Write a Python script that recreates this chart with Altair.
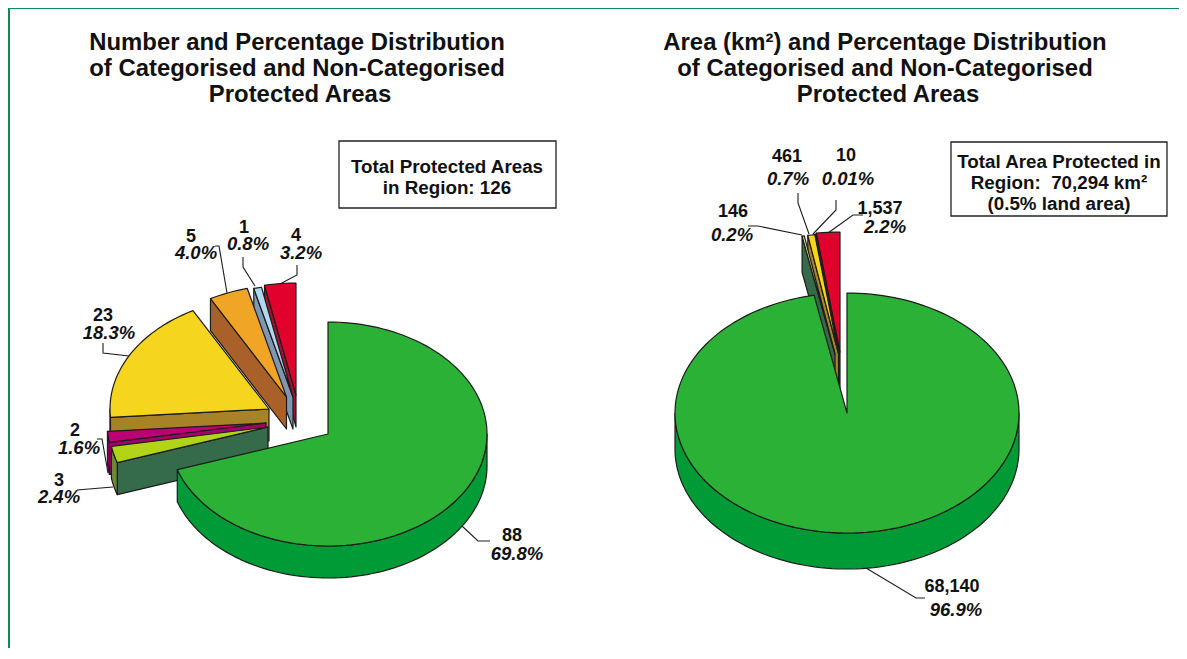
import math
import altair as alt

# ---- values ----
left_labels = ["88", "3", "2", "23", "5", "1", "4"]
left_values = [88, 3, 2, 23, 5, 1, 4]
left_pct = ["69.8%", "2.4%", "1.6%", "18.3%", "4.0%", "0.8%", "3.2%"]
right_labels = ["68,140", "146", "461", "10", "1,537"]
right_values = [68140, 146, 461, 10, 1537]
right_pct = ["96.9%", "0.2%", "0.7%", "0.01%", "2.2%"]

# ---- styling: (top, radial wall, outer wall) ----
GREEN = ("#2BB236", "#009A36", "#009A36")
LIME = ("#B2D418", "#356A4B", "#6B8A34")
MAGENTA = ("#BE0075", "#A3006C", "#A3006C")
YELLOW = ("#F6D51F", "#A88226", "#A88226")
ORANGE = ("#F0A527", "#A96029", "#A96029")
BLUE = ("#B0D8F0", "#7F97B2", "#7F97B2")
RED = ("#E2002D", "#A3122E", "#A3122E")
PALE = ("#E6ECA8", "#356A4B", "#356A4B")

left_colors = [GREEN, LIME, MAGENTA, YELLOW, ORANGE, BLUE, RED]
right_colors = [GREEN, PALE, YELLOW, BLUE, RED]
# apex of every exploded slice on the page
left_apex = [(328, 434), (268, 427), (266, 423), (269, 409), (286.5, 397), (293, 397), (296, 395)]
right_apex = [(847, 413), (835, 354), (838.5, 353.5), (839, 353), (840, 352)]
left_shape = (159, 112, 32)
right_shape = (172, 120, 36)

W, H = 1171, 640
OFF = 8
INK = "#1c1c1c"


def pie_features(values, colors, apexes, shape):
    rx, ry, depth = shape
    total = sum(values)
    spans, cum = [], 0
    for v in values:
        spans.append((cum / total * 360, (cum + v) / total * 360))
        cum += v
    feats = []

    def add(points, fill):
        ring = [[float(a), float(b)] for a, b in points]
        ring.append(ring[0])
        feats.append({"type": "Feature", "properties": {"fill": fill},
                      "geometry": {"type": "Polygon", "coordinates": [ring]}})

    # far slices first: last slice, going backwards, then the big slice
    for i in list(range(len(values) - 1, -1, -1)):
        a0, a1 = spans[i]
        cx, cy = apexes[i]

        def pt(a):
            r = math.radians(a)
            return (cx + rx * math.sin(r), cy - ry * math.cos(r))

        n = max(2, int((a1 - a0) / 2) + 2)
        arc = [a0 + (a1 - a0) * k / (n - 1) for k in range(n)]
        top = [(cx, cy)] + [pt(a) for a in arc]
        # radial walls that face the viewer
        s = pt(a0)
        if s[0] < cx:
            add([(cx, cy), s, (s[0], s[1] + depth), (cx, cy + depth)], colors[i][1])
        e = pt(a1)
        if cx < e[0]:
            add([e, (cx, cy), (cx, cy + depth), (e[0], e[1] + depth)], colors[i][1])
        # curved wall on the near half of the ellipse
        lo, hi = max(a0, 90), min(a1, 270)
        if hi > lo:
            m = max(2, int((hi - lo) / 2) + 2)
            aa = [lo + (hi - lo) * k / (m - 1) for k in range(m)]
            up = [pt(a) for a in aa]
            add(up + [(x, y + depth) for x, y in reversed(up)], colors[i][2])
        add(top, colors[i][0])
    return feats


features = pie_features(left_values, left_colors, left_apex, left_shape) + \
    pie_features(right_values, right_colors, right_apex, right_shape)

X = alt.X("x:Q", scale=alt.Scale(domain=[OFF, OFF + W], range=[0, W]), axis=None)
Y = alt.Y("y:Q", scale=alt.Scale(domain=[OFF, OFF + H], range=[0, H]), axis=None)
X2 = alt.X2("x2:Q")
Y2 = alt.Y2("y2:Q")

frame = alt.Chart(alt.Data(values=[
    {"x": 0, "x2": 1187, "y": 4, "y2": 9, "c": "#0A8B5B"},
    {"x": 5, "x2": 10, "y": 4, "y2": 659, "c": "#0A8B5B"},
])).mark_rect().encode(x=X, x2=X2, y=Y, y2=Y2, color=alt.Color("c:N", scale=None))

pies = alt.Chart(alt.InlineData(
    values={"type": "FeatureCollection", "features": features},
    format=alt.DataFormat(type="json", property="features"),
)).mark_geoshape(stroke=INK, strokeWidth=1.2, strokeJoin="round").encode(
    color=alt.Color("properties.fill:N", scale=None)
).project(type="identity", scale=1, translate=[-OFF, -OFF])

leaders_src = {
    "5": [(215, 246), (219, 246), (227, 293)],
    "1": [(243, 257), (243, 267), (255, 286)],
    "4": [(297, 265), (297, 275), (280, 284)],
    "23": [(103, 343), (103, 353), (129, 356)],
    "2": [(97, 439), (102, 439), (108, 473)],
    "3": [(77, 490), (113, 487)],
    "88": [(462, 526), (478, 541), (490, 541)],
    "68,140": [(866, 568), (916, 598), (925, 598)],
    "146": [(748, 226), (758, 226), (802, 235)],
    "461": [(798, 193), (798, 203), (809, 234)],
    "10": [(836, 200), (836, 210), (813, 234)],
    "1,537": [(863, 215), (853, 215), (828, 233)],
}
leader_rows = [{"id": k, "o": i, "x": p[0], "y": p[1]}
               for k, pts in leaders_src.items() for i, p in enumerate(pts)]
leaders = alt.Chart(alt.Data(values=leader_rows)).mark_line(
    color=INK, strokeWidth=1.1
).encode(x=X, y=Y, detail="id:N", order="o:Q")

boxes = alt.Chart(alt.Data(values=[
    {"x": 339, "x2": 556, "y": 141, "y2": 208},
    {"x": 951, "x2": 1167, "y": 142, "y2": 216},
])).mark_rect(fill="white", stroke="#222222", strokeWidth=1.3).encode(x=X, x2=X2, y=Y, y2=Y2)

title_rows = [
    {"x": 297, "y": 43, "t": "Number and Percentage Distribution"},
    {"x": 297, "y": 69, "t": "of Categorised and Non-Categorised"},
    {"x": 300, "y": 95, "t": "Protected Areas"},
    {"x": 885, "y": 43, "t": "Area (km²) and Percentage Distribution"},
    {"x": 885, "y": 69, "t": "of Categorised and Non-Categorised"},
    {"x": 888, "y": 95, "t": "Protected Areas"},
]
titles = alt.Chart(alt.Data(values=title_rows)).mark_text(
    font="Liberation Sans", fontWeight="bold", fontSize=23.9, color="#111111", baseline="middle", align="center"
).encode(x=X, y=Y, text="t:N")

box_rows = [
    {"x": 447, "y": 167, "t": "Total Protected Areas"},
    {"x": 447, "y": 188, "t": "in Region: 126"},
    {"x": 1059, "y": 162, "t": "Total Area Protected in"},
    {"x": 1059, "y": 183, "t": "Region:\u00a0 70,294 km²"},
    {"x": 1059, "y": 204, "t": "(0.5% land area)"},
]
box_text = alt.Chart(alt.Data(values=box_rows)).mark_text(
    font="Liberation Sans", fontWeight="bold", fontSize=18.8, color="#111111", baseline="middle", align="center"
).encode(x=X, y=Y, text="t:N")

num_pos = {"88": (512, 536), "3": (59, 481), "2": (75, 431), "23": (103, 316), "5": (191, 237), "1": (244, 228),
           "4": (296, 236), "68,140": (952, 587), "146": (733, 212), "461": (787, 157), "10": (846, 156),
           "1,537": (880, 209)}
pct_pos = {"69.8%": (517, 554), "2.4%": (59, 497), "1.6%": (79, 448), "18.3%": (109, 333), "4.0%": (196, 253),
           "0.8%": (248, 244), "3.2%": (301, 253), "96.9%": (956, 610), "0.2%": (732, 235), "0.7%": (788, 179),
           "0.01%": (848, 179), "2.2%": (885, 227)}
num_rows = [{"x": num_pos[t][0], "y": num_pos[t][1], "t": t} for t in left_labels + right_labels]
pct_rows = [{"x": pct_pos[t][0], "y": pct_pos[t][1], "t": t} for t in left_pct + right_pct]
nums = alt.Chart(alt.Data(values=num_rows)).mark_text(
    font="Liberation Sans", fontWeight="bold", fontSize=18, color="#111111", baseline="middle", align="center"
).encode(x=X, y=Y, text="t:N")
pcts = alt.Chart(alt.Data(values=pct_rows)).mark_text(
    font="Liberation Sans", fontWeight="bold", fontStyle="italic", fontSize=18.5, color="#111111",
    baseline="middle", align="center"
).encode(x=X, y=Y, text="t:N")

chart = alt.layer(frame, pies, leaders, boxes, titles, box_text, nums, pcts).properties(
    width=W, height=H, padding=0, autosize=alt.AutoSizeParams(type="none"), background="white"
).configure_view(stroke=None)

chart.save("out.html", embed_options={"renderer": "svg", "actions": False})
